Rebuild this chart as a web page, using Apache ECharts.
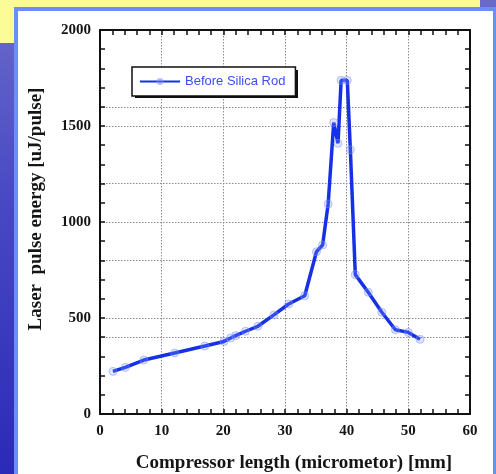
<!DOCTYPE html>
<html>
<head>
<meta charset="utf-8">
<script src="https://cdn.jsdelivr.net/npm/echarts@6/dist/echarts.min.js"></script>
<style>
  html, body { margin: 0; padding: 0; }
  body { width: 496px; height: 474px; position: relative; overflow: hidden;
         background: linear-gradient(to bottom, #6a6acb 0%, #4a4ac4 40%, #2a2ab8 100%); }
  #yellow { position: absolute; left: 0; top: 0; width: 480px; height: 43px; background: #fbfb98; }
  #card { position: absolute; left: 14px; top: 7px; width: 475px; height: 480px;
          background: #ffffff; border: 4px solid #6c8ef8; border-bottom: none; }
  #chart { position: absolute; left: 0; top: 0; width: 496px; height: 474px; }
</style>
</head>
<body>
<div id="yellow"></div>
<div id="card"></div>
<div id="chart"></div>
<script>
// Data
const xValues = [2.1, 4.1, 7.1, 12.1, 17.0, 20.1, 21.2, 22.0, 23.6, 25.6, 28.2, 30.6, 33.2, 35.1, 36.1, 37.0, 37.9, 38.6, 39.1, 40.1, 40.6, 41.4, 43.5, 45.7, 47.9, 50.0, 51.9];
const yValues = [222, 243, 281, 318, 354, 378, 396, 408, 431, 457, 516, 573, 616, 845, 880, 1094, 1518, 1410, 1738, 1738, 1376, 726, 634, 530, 439, 425, 389];
const seriesName = 'Before Silica Rod';
const xTitle = 'Compressor length (micrometor) [mm]';
const yTitle = 'Laser  pulse energy [uJ/pulse]';

const chart = echarts.init(document.getElementById('chart'), null, { renderer: 'canvas' });

const serif = 'Liberation Serif';
const labelStyle = { fontFamily: serif, fontWeight: 'bold', fontSize: 15, color: '#151515',
                     formatter: v => String(v) };
const gridLine = { show: true, lineStyle: { color: '#8a8a8a', width: 1, type: [1.5, 1.5] } };
const axisLine = { show: true, onZero: false, lineStyle: { color: '#111', width: 2 } };
const tick = { show: true, inside: true, length: 5, lineStyle: { color: '#111', width: 1.5 } };
const minor = n => ({ show: true, splitNumber: n, length: 5, lineStyle: { color: '#111', width: 1.5 } });

chart.setOption({
  animation: false,
  backgroundColor: 'transparent',
  grid: { left: 100, right: 26, top: 30, bottom: 60 },
  legend: {
    left: 132, top: 67, z: 10,
    padding: [8, 10, 8, 7],
    itemWidth: 40, itemHeight: 6,
    backgroundColor: '#fff',
    borderColor: '#111', borderWidth: 1.5, borderRadius: 0,
    textStyle: { fontFamily: 'Liberation Sans', fontSize: 13, color: '#3a4ff0', lineHeight: 10 },
    data: [seriesName]
  },
  xAxis: [
    {
      type: 'value', position: 'bottom', min: 0, max: 60, interval: 10,
      axisLine: axisLine, axisTick: tick, minorTick: minor(5),
      axisLabel: Object.assign({ margin: 10 }, labelStyle),
      splitLine: gridLine
    },
    {
      type: 'value', position: 'top', min: 0, max: 60, interval: 10,
      axisLine: axisLine, axisTick: tick, minorTick: minor(5),
      axisLabel: { show: false },
      splitLine: { show: false }
    }
  ],
  yAxis: [
    {
      type: 'value', position: 'left', min: 0, max: 2000, interval: 500,
      axisLine: axisLine, axisTick: tick, minorTick: minor(5),
      axisLabel: Object.assign({ margin: 9 }, labelStyle),
      splitLine: gridLine
    },
    {
      type: 'value', position: 'right', min: 0, max: 2000, interval: 400,
      axisLine: axisLine, axisTick: tick, minorTick: minor(4),
      axisLabel: { show: false },
      splitLine: gridLine
    }
  ],
  graphic: [
    {
      type: 'rect', z: 5,
      shape: { x: 135, y: 70, width: 163, height: 28 },
      style: { fill: '#111' }
    },
    {
      type: 'text', x: 294, y: 463,
      style: { text: xTitle, fontFamily: serif, fontWeight: 'bold', fontSize: 19, fill: '#151515',
               textAlign: 'center', textVerticalAlign: 'middle' }
    },
    {
      type: 'text', x: 36, y: 209, rotation: Math.PI / 2,
      style: { text: yTitle, fontFamily: serif, fontWeight: 'bold', fontSize: 19, fill: '#151515',
               textAlign: 'center', textVerticalAlign: 'middle' }
    }
  ],
  series: [
    {
      name: seriesName,
      type: 'line',
      xAxisIndex: 0, yAxisIndex: 0,
      data: xValues.map((x, i) => [x, yValues[i]]),
      symbol: 'circle', symbolSize: 8,
      lineStyle: { color: '#1530e6', width: 3.5 },
      itemStyle: { color: 'rgba(130,150,255,0.25)', borderColor: 'rgba(120,140,255,0.5)', borderWidth: 1 },
      z: 3
    }
  ]
});
</script>
</body>
</html>
